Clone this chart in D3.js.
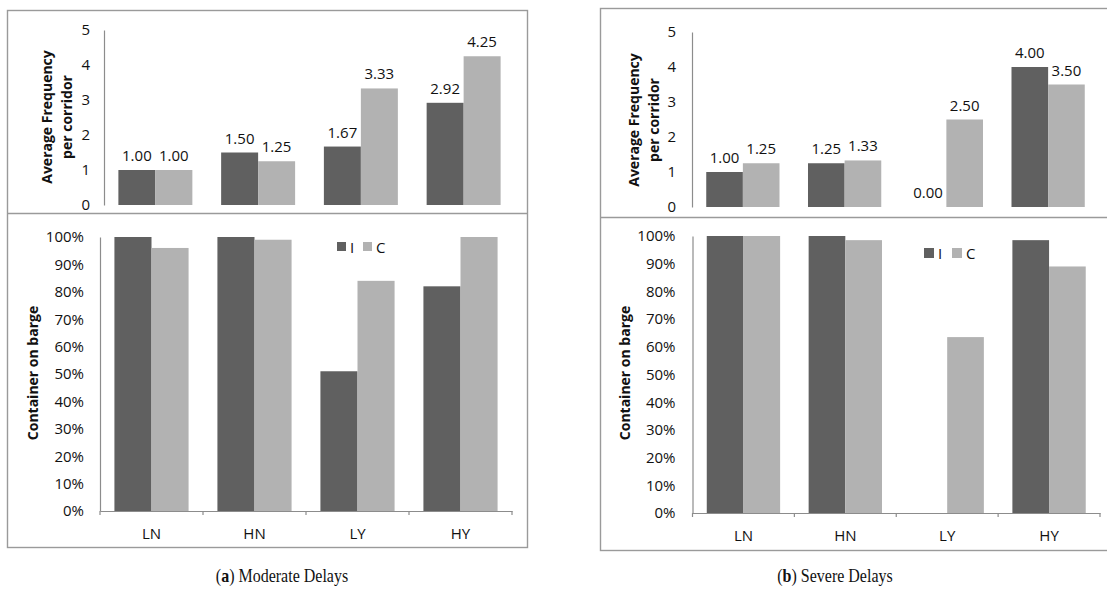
<!DOCTYPE html>
<html>
<head>
<meta charset="utf-8">
<script src="https://cdn.jsdelivr.net/npm/d3@7"></script>
<style>
  html, body { margin: 0; padding: 0; background: #fff; }
  svg { display: block; }
  text { font-family: "Open Sans", Lato, sans-serif; fill: #111; }
</style>
</head>
<body>
<svg id="chart" width="1107" height="602"></svg>
<script>
// Corridor scenarios and the two measured series
const categories = ["LN", "HN", "LY", "HY"];
const seriesNames = ["I", "C"];

// Average frequency per corridor
const freqModerateI = [1.00, 1.50, 1.67, 2.92];
const freqModerateC = [1.00, 1.25, 3.33, 4.25];
const freqSevereI   = [1.00, 1.25, 0.00, 4.00];
const freqSevereC   = [1.25, 1.33, 2.50, 3.50];

// Share of containers moved on barge
const bargeModerateI = [1.00, 1.00, 0.51, 0.82];
const bargeModerateC = [0.96, 0.99, 0.84, 1.00];
const bargeSevereI   = [1.00, 1.00, 0.00, 0.985];
const bargeSevereC   = [1.00, 0.985, 0.635, 0.89];

// Axis ticks
const freqTicks = [0, 1, 2, 3, 4, 5];
const pctTicks = [0, 0.1, 0.2, 0.3, 0.4, 0.5, 0.6, 0.7, 0.8, 0.9, 1.0];

const colors = { I: "#606060", C: "#b2b2b2" };
const frameColor = "#9a9a9a";
const axisColor = "#8c8c8c";
const FONT = "'Open Sans', Lato, sans-serif";
const FS = "15px";       // tick, value and legend text
const FS_TITLE = "14px"; // bold axis titles

const svg = d3.select("#chart");

function bandScale(x0, x1) {
  return d3.scaleBand().domain(categories).range([x0, x1])
    .paddingInner(0.28).paddingOuter(0.14);
}

function styleAxisText(ax) {
  ax.selectAll("text").style("font-size", FS).style("font-family", FONT).attr("fill", "#111");
}

function rotatedTitle(g, lines, xs, cy) {
  lines.forEach((t, i) => {
    g.append("text")
      .attr("transform", `translate(${xs[i]},${cy}) rotate(-90)`)
      .attr("text-anchor", "middle")
      .attr("dominant-baseline", "central")
      .style("font-weight", "bold")
      .style("font-size", FS_TITLE)
      .text(t);
  });
}

function drawPanel(p) {
  const g = svg.append("g");

  // Frame around both stacked charts, with a divider between them
  g.append("rect")
    .attr("x", p.frame.x0).attr("y", p.frame.y0)
    .attr("width", p.frame.x1 - p.frame.x0).attr("height", p.frame.y1 - p.frame.y0)
    .attr("fill", "none").attr("stroke", frameColor).attr("stroke-width", 1.4);
  g.append("line")
    .attr("x1", p.frame.x0).attr("x2", p.frame.x1)
    .attr("y1", p.frame.sep).attr("y2", p.frame.sep)
    .attr("stroke", frameColor).attr("stroke-width", 1.4);

  // ---- Upper chart: average frequency ----
  const t = p.top;
  const xT = bandScale(t.x0, t.x1);
  const sT = d3.scaleBand().domain(seriesNames).range([0, xT.bandwidth()]);
  const yT = d3.scaleLinear().domain([0, 5]).range([t.yZero, t.yTop]);
  const freqRows = categories.map((c, i) => ({ cat: c, I: p.freqI[i], C: p.freqC[i] }));

  const gT = g.append("g");
  const groupsT = gT.selectAll("g.grp").data(freqRows).join("g")
    .attr("transform", d => `translate(${xT(d.cat)},0)`);
  groupsT.selectAll("rect").data(d => seriesNames.map(s => ({ s, v: d[s] }))).join("rect")
    .attr("x", d => sT(d.s)).attr("width", sT.bandwidth())
    .attr("y", d => yT(d.v)).attr("height", d => yT(0) - yT(d.v))
    .attr("fill", d => colors[d.s]);
  groupsT.selectAll("text.val").data(d => seriesNames.map(s => ({ s, v: d[s] }))).join("text")
    .attr("class", "val")
    .attr("x", d => sT(d.s) + sT.bandwidth() / 2)
    .attr("y", d => yT(d.v) - 9)
    .attr("text-anchor", "middle")
    .style("font-size", FS)
    .text(d => d.v.toFixed(2));

  const axT = gT.append("g").attr("transform", `translate(${t.x0},0)`)
    .call(d3.axisLeft(yT).tickValues(freqTicks).tickSize(0).tickPadding(t.tickPad).tickFormat(d3.format("d")));
  axT.select(".domain").attr("stroke", axisColor).attr("stroke-width", 1.2);
  styleAxisText(axT);
  rotatedTitle(gT, ["Average Frequency", "per corridor"], t.titleX, t.titleY);

  // ---- Lower chart: share of containers on barge ----
  const b = p.bottom;
  const xB = bandScale(b.x0, b.x1);
  const sB = d3.scaleBand().domain(seriesNames).range([0, xB.bandwidth()]);
  const yB = d3.scaleLinear().domain([0, 1]).range([b.yZero, b.yTop]);
  const bargeRows = categories.map((c, i) => ({ cat: c, I: p.bargeI[i], C: p.bargeC[i] }));

  const gB = g.append("g");
  const groupsB = gB.selectAll("g.grp").data(bargeRows).join("g")
    .attr("transform", d => `translate(${xB(d.cat)},0)`);
  groupsB.selectAll("rect").data(d => seriesNames.map(s => ({ s, v: d[s] }))).join("rect")
    .attr("x", d => sB(d.s)).attr("width", sB.bandwidth())
    .attr("y", d => yB(d.v)).attr("height", d => yB(0) - yB(d.v))
    .attr("fill", d => colors[d.s]);

  const axBY = gB.append("g").attr("transform", `translate(${b.x0},0)`)
    .call(d3.axisLeft(yB).tickValues(pctTicks).tickSize(0).tickPadding(b.tickPad).tickFormat(d3.format(".0%")));
  axBY.select(".domain").attr("stroke", axisColor).attr("stroke-width", 1.2);
  styleAxisText(axBY);

  const axBX = gB.append("g").attr("transform", `translate(0,${b.yZero})`)
    .call(d3.axisBottom(xB).tickSize(0).tickPadding(b.labelPad));
  axBX.select(".domain").attr("stroke", axisColor).attr("stroke-width", 1.2);
  styleAxisText(axBX);

  // Tick marks sit on category boundaries
  const half = xB.step() * xB.paddingInner() / 2;
  const bounds = categories.map(c => xB(c) - half).concat([xB.range()[1]]);
  gB.selectAll("line.bound").data(bounds).join("line")
    .attr("class", "bound")
    .attr("x1", d => d).attr("x2", d => d)
    .attr("y1", b.yZero).attr("y2", b.yZero + 4)
    .attr("stroke", axisColor).attr("stroke-width", 1.2);

  rotatedTitle(gB, ["Container on barge"], [b.titleX], b.titleY);

  // Legend
  const lg = gB.append("g").attr("transform", `translate(${p.legend.x},${p.legend.y})`);
  const sz = p.legend.size;
  seriesNames.forEach((s, i) => {
    const ox = i * p.legend.gap;
    lg.append("rect").attr("x", ox).attr("y", 0).attr("width", sz).attr("height", sz).attr("fill", colors[s]);
    lg.append("text").attr("x", ox + sz + 4).attr("y", sz / 2)
      .attr("dominant-baseline", "central").style("font-size", FS).text(s);
  });

  // Sub-figure caption
  const cap = svg.append("text")
    .attr("transform", `translate(${p.caption.x},${p.caption.y}) scale(0.82,1)`)
    .attr("text-anchor", "middle")
    .style("font-family", "'Liberation Serif', 'DejaVu Serif', serif")
    .style("font-size", "19.5px");
  cap.append("tspan").text("(");
  cap.append("tspan").style("font-weight", "bold").text(p.caption.letter);
  cap.append("tspan").text(") " + p.caption.text);
}

drawPanel({
  frame: { x0: 7.5, y0: 10.5, x1: 527.5, y1: 547.5, sep: 213.5 },
  top: { x0: 104, x1: 515, yZero: 205, yTop: 30, tickPad: 14, titleX: [46, 66], titleY: 117 },
  bottom: { x0: 100, x1: 512, yZero: 511, yTop: 237, tickPad: 16, labelPad: 17, titleX: 32, titleY: 373 },
  legend: { x: 337, y: 242, size: 9, gap: 26 },
  freqI: freqModerateI, freqC: freqModerateC,
  bargeI: bargeModerateI, bargeC: bargeModerateC,
  caption: { x: 282, y: 582, letter: "a", text: "Moderate Delays" }
});

drawPanel({
  frame: { x0: 600.5, y0: 8.5, x1: 1112, y1: 550.5, sep: 217.5 },
  top: { x0: 692, x1: 1099, yZero: 207, yTop: 32, tickPad: 16, titleX: [633, 653], titleY: 120 },
  bottom: { x0: 692.5, x1: 1100, yZero: 513, yTop: 236, tickPad: 17, labelPad: 17, titleX: 624, titleY: 373 },
  legend: { x: 924, y: 248, size: 10, gap: 28 },
  freqI: freqSevereI, freqC: freqSevereC,
  bargeI: bargeSevereI, bargeC: bargeSevereC,
  caption: { x: 835, y: 582, letter: "b", text: "Severe Delays" }
});
</script>
</body>
</html>
